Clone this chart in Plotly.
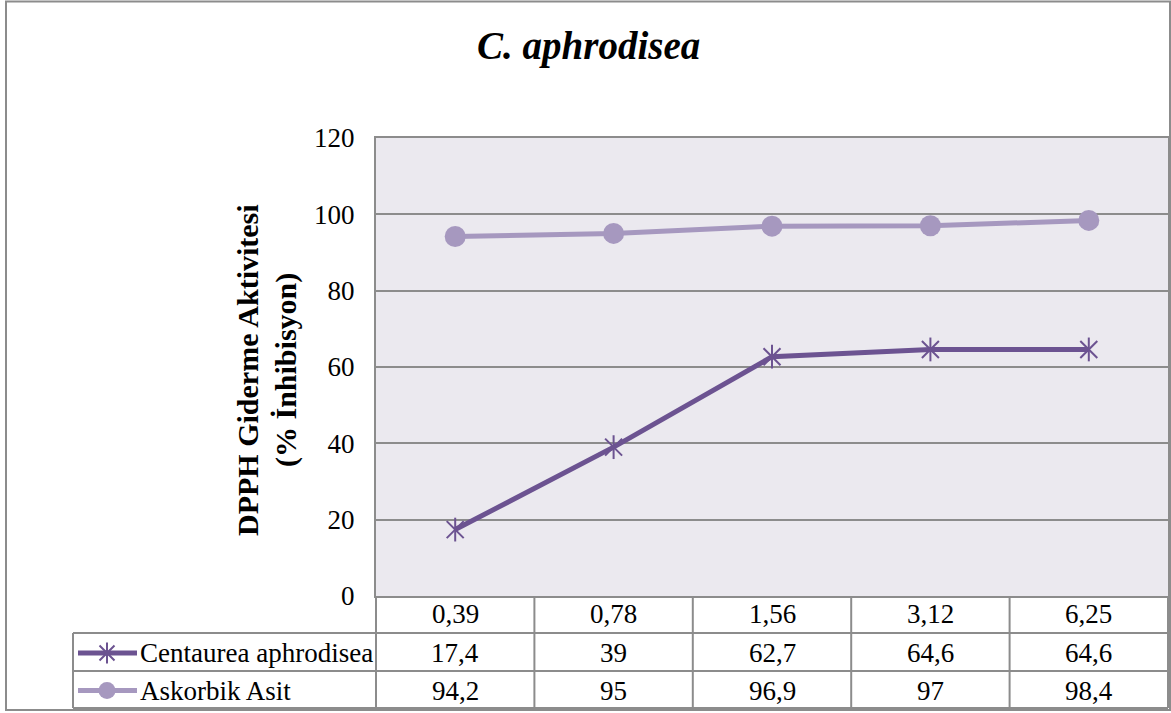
import plotly.graph_objects as go

# ---- data ----
categories = ["0,39", "0,78", "1,56", "3,12", "6,25"]
centaurea = [17.4, 39, 62.7, 64.6, 64.6]
askorbik = [94.2, 95, 96.9, 97, 98.4]
series_names = ["Centaurea aphrodisea", "Askorbik Asit"]
y_ticks = [0, 20, 40, 60, 80, 100, 120]
chart_title = "C. aphrodisea"
y_title = ["DPPH Giderme Aktivitesi", "(% İnhibisyon)"]

# ---- layout constants (pixels) ----
W, H = 1171, 713
PL, PR, PT, PB = 376, 1168, 138, 596
ROWS = [596, 633, 671, 708]
LEG_L = 73

C1 = "#6C5391"
C2 = "#A698BF"
GRID = "#8C8C8C"
PLOTBG = "#EBE9EF"
FONT = "Liberation Serif"
FS = 27
LW = 5


def fx(p):
    return p / W


def fy(p):
    return 1 - p / H


def fmt(v):
    return f"{v:g}".replace(".", ",")


xs = list(range(len(categories)))

fig = go.Figure()

# Askorbik Asit
fig.add_trace(go.Scatter(
    x=xs, y=askorbik, mode="lines+markers", name=series_names[1],
    line=dict(color=C2, width=LW),
    marker=dict(symbol="circle", size=21, color=C2),
    showlegend=False, hoverinfo="skip"))

# Centaurea aphrodisea
fig.add_trace(go.Scatter(
    x=xs, y=centaurea, mode="lines", name=series_names[0],
    line=dict(color=C1, width=LW), showlegend=False, hoverinfo="skip"))
for sym in ["x-thin-open", "line-ns-open"]:
    fig.add_trace(go.Scatter(
        x=xs, y=centaurea, mode="markers", showlegend=False, hoverinfo="skip",
        marker=dict(symbol=sym, size=17, color=C1,
                    line=dict(color=C1, width=2))))

# ---- legend keys inside the data table (separate full-page pixel axis) ----
key_rows = [((ROWS[1] + ROWS[2]) / 2 + 1, C1), ((ROWS[2] + ROWS[3]) / 2 + 1, C2)]
kx0, kx1, kxm = 78, 137, 107
for i, (ky, col) in enumerate(key_rows):
    fig.add_trace(go.Scatter(
        x=[kx0, kx1], y=[ky, ky], mode="lines", xaxis="x2", yaxis="y2",
        line=dict(color=col, width=LW), showlegend=False, hoverinfo="skip"))
    if i == 0:
        for sym in ["x-thin-open", "line-ns-open"]:
            fig.add_trace(go.Scatter(
                x=[kxm], y=[ky], mode="markers", xaxis="x2", yaxis="y2",
                showlegend=False, hoverinfo="skip",
                marker=dict(symbol=sym, size=15, color=col,
                            line=dict(color=col, width=2))))
    else:
        fig.add_trace(go.Scatter(
            x=[kxm], y=[ky], mode="markers", xaxis="x2", yaxis="y2",
            showlegend=False, hoverinfo="skip",
            marker=dict(symbol="circle", size=17, color=col)))

shapes = []

# plot area background
shapes.append(dict(type="rect", xref="paper", yref="paper", layer="below",
                   x0=fx(PL), x1=fx(PR), y0=fy(PB), y1=fy(PT),
                   line=dict(width=0), fillcolor=PLOTBG))


def hline(y, x0, x1, w=2):
    shapes.append(dict(type="line", xref="paper", yref="paper",
                       x0=fx(x0), x1=fx(x1), y0=fy(y), y1=fy(y),
                       line=dict(color=GRID, width=w)))


def vline_px(x, y0, y1, w=2):
    shapes.append(dict(type="line", xref="paper", yref="paper",
                       x0=fx(x), x1=fx(x), y0=fy(y0), y1=fy(y1),
                       line=dict(color=GRID, width=w)))


# outer chart border
shapes.append(dict(type="rect", xref="paper", yref="paper",
                   x0=fx(6), x1=fx(1170), y0=fy(710), y1=fy(1.5),
                   line=dict(color=GRID, width=2), fillcolor="rgba(0,0,0,0)"))

# data table grid
for y in ROWS[1:]:
    hline(y, LEG_L, PR)
vline_px(LEG_L, ROWS[1], ROWS[3])
vline_px(PL, ROWS[0], ROWS[3])
vline_px(PR, ROWS[0], ROWS[3])
for i in range(len(categories) - 1):
    shapes.append(dict(type="line", xref="x", yref="paper",
                       x0=i + 0.5, x1=i + 0.5, y0=fy(ROWS[0]), y1=fy(ROWS[3]),
                       line=dict(color=GRID, width=2)))

annotations = []
row_centers = [(ROWS[0] + ROWS[1]) / 2 - 1,
               (ROWS[1] + ROWS[2]) / 2 + 1,
               (ROWS[2] + ROWS[3]) / 2 + 1]
table_rows = [categories, [fmt(v) for v in centaurea], [fmt(v) for v in askorbik]]
for r, vals in enumerate(table_rows):
    for i, t in enumerate(vals):
        annotations.append(dict(x=i, y=fy(row_centers[r]), xref="x", yref="paper",
                                text=t, showarrow=False, xanchor="center",
                                yanchor="middle",
                                font=dict(family=FONT, size=FS, color="black")))
for r, name in enumerate(series_names):
    annotations.append(dict(x=fx(138), y=fy(row_centers[r + 1]), xref="paper",
                            yref="paper", text=name, showarrow=False,
                            xanchor="left", yanchor="middle",
                            font=dict(family=FONT, size=FS, color="black")))

# title
annotations.append(dict(x=fx(588), y=fy(46), xref="paper", yref="paper",
                        text=f"<b><i>{chart_title}</i></b>", showarrow=False,
                        xanchor="center", yanchor="middle",
                        font=dict(family=FONT, size=39, color="black")))
# y-axis title (two lines)
for xc, t in zip([247, 286], y_title):
    annotations.append(dict(x=fx(xc), y=fy(370), xref="paper", yref="paper",
                            text=f"<b>{t}</b>", textangle=-90, showarrow=False,
                            xanchor="center", yanchor="middle",
                            font=dict(family=FONT, size=30, color="black")))

fig.update_layout(
    width=W, height=H,
    margin=dict(l=0, r=0, t=0, b=0, autoexpand=False),
    paper_bgcolor="white",
    plot_bgcolor="rgba(0,0,0,0)",
    showlegend=False,
    xaxis=dict(domain=[fx(PL), fx(PR)], range=[-0.5, len(categories) - 0.5],
               showgrid=False, zeroline=False, showticklabels=False,
               showline=True, mirror=True, linecolor=GRID, linewidth=2,
               automargin=False, fixedrange=True),
    yaxis=dict(domain=[fy(PB), fy(PT)], range=[0, 120], tickvals=y_ticks,
               showgrid=True, gridcolor=GRID, gridwidth=1.5, zeroline=False,
               showline=True, mirror=True, linecolor=GRID, linewidth=2,
               ticks="", ticklabelstandoff=14, automargin=False,
               tickfont=dict(family=FONT, size=FS, color="black"),
               fixedrange=True),
    xaxis2=dict(domain=[0, 1], range=[0, W], visible=False, anchor="y2",
                automargin=False, fixedrange=True),
    yaxis2=dict(domain=[0, 1], range=[H, 0], visible=False, anchor="x2",
                automargin=False, fixedrange=True),
    shapes=shapes,
    annotations=annotations,
)

fig.write_html("out.html")
